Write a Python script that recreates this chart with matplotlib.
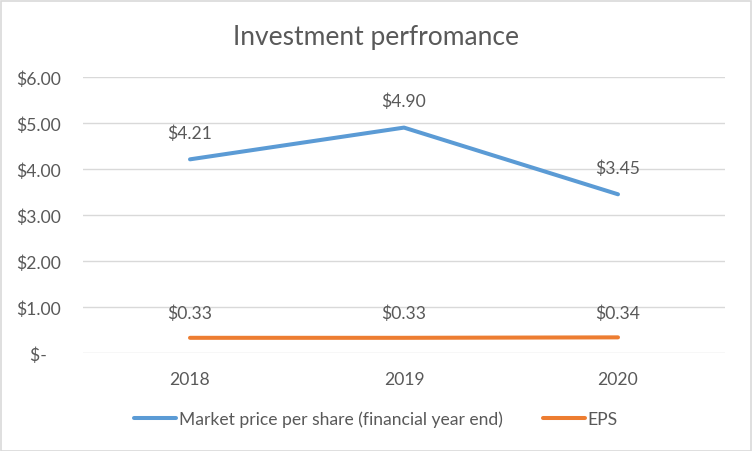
import matplotlib
matplotlib.use("Agg")
import matplotlib.pyplot as plt
from matplotlib.patches import Rectangle

years = ["2018", "2019", "2020"]
market_price = [4.21, 4.90, 3.45]
eps = [0.33, 0.33, 0.34]
y_ticks = [0, 1, 2, 3, 4, 5, 6]
y_tick_labels = ["$-   ", "$1.00", "$2.00", "$3.00", "$4.00", "$5.00", "$6.00"]
title = "Investment perfromance"
series_names = ["Market price per share (financial year end)", "EPS"]

plt.rcParams['font.family'] = ['Lato', 'DejaVu Sans']
txt = "#595959"
blue = "#5B9BD5"
orange = "#ED7D31"
fs = 12.6

fig = plt.figure(figsize=(7.52, 4.52), dpi=100)
fig.patches.append(Rectangle((0.5/752, 0.5/452), 1 - 2/752, 1 - 2/452, transform=fig.transFigure,
                             fill=False, edgecolor="#D9D9D9", linewidth=1.2))
ax = fig.add_axes([83/752, 1 - 354/452, (725 - 83)/752, (354 - 78)/452])

x = list(range(len(years)))
l1, = ax.plot(x, market_price, color=blue, lw=2.9, solid_capstyle="round", solid_joinstyle="round",
              label=series_names[0], zorder=3)
l2, = ax.plot(x, eps, color=orange, lw=2.9, solid_capstyle="round", solid_joinstyle="round",
              label=series_names[1], zorder=3)

for xi, v in zip(x, market_price):
    ax.annotate(f"${v:.2f}", (xi, v), xytext=(0, 19), textcoords="offset points",
                ha="center", va="center", fontsize=fs, color=txt)
for xi, v in zip(x, eps):
    ax.annotate(f"${v:.2f}", (xi, v), xytext=(0, 18), textcoords="offset points",
                ha="center", va="center", fontsize=fs, color=txt)

ax.set_xlim(-0.5, len(years) - 0.5)
ax.set_ylim(0, 6)
ax.set_yticks(y_ticks)
ax.set_yticklabels(y_tick_labels)
ax.set_xticks(x)
ax.set_xticklabels(years)
ax.tick_params(axis="both", length=0, labelsize=fs, labelcolor=txt)
ax.tick_params(axis="y", pad=16)
ax.tick_params(axis="x", pad=13)
ax.grid(axis="y", color="#D9D9D9", lw=1)
ax.set_axisbelow(True)
for s in ax.spines.values():
    s.set_visible(False)

fig.text(0.5, 1 - 37/452, title, ha="center", va="center", fontsize=19, color=txt)

fig.legend(handles=[l1, l2], loc="center", bbox_to_anchor=(0.5, 1 - 420/452), ncol=2, frameon=False,
           fontsize=fs, labelcolor=txt, handlelength=2.4, handletextpad=0.15, columnspacing=2.3)

fig.savefig("out.png", dpi=100)
